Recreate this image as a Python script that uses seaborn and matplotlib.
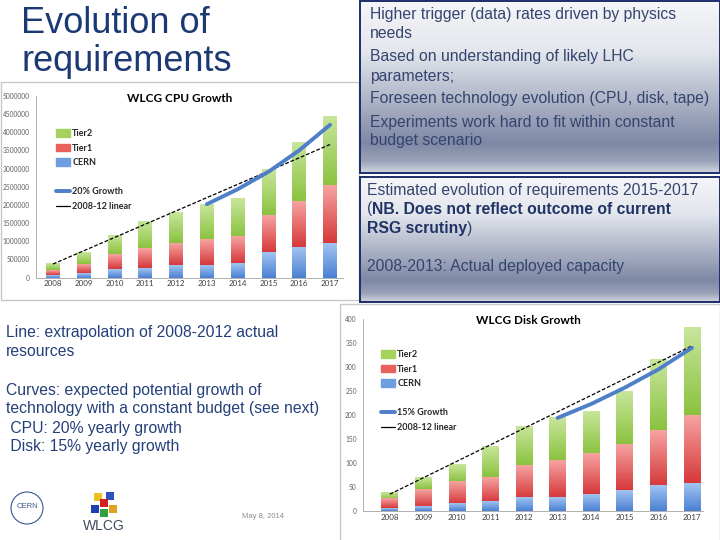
import matplotlib
matplotlib.use('Agg')
import matplotlib.pyplot as plt
from matplotlib.patches import Rectangle, Patch, Circle
from matplotlib.lines import Line2D
from matplotlib.colors import LinearSegmentedColormap
import numpy as np
import seaborn as sns

# values
years = [2008, 2009, 2010, 2011, 2012, 2013, 2014, 2015, 2016, 2017]

cpu_cern = [65000, 137000, 247000, 265000, 348000, 348000, 403000, 696000, 842000, 943000]
cpu_tier1 = [135000, 228000, 403000, 532000, 604000, 687000, 723000, 998000, 1255000, 1585000]
cpu_tier2 = [175000, 305000, 505000, 743000, 834000, 989000, 1064000, 1291000, 1612000, 1914000]
cpu_growth_years = [2013, 2014, 2015, 2016, 2017]
cpu_growth = [2020000, 2430000, 2910000, 3500000, 4200000]
cpu_linear_years = [2008, 2017]
cpu_linear = [375000, 3660000]
cpu_yticks = [0, 500000, 1000000, 1500000, 2000000, 2500000, 3000000, 3500000, 4000000, 4500000, 5000000]

disk_cern = [5.5, 9, 15, 19.5, 28, 29, 35, 43, 53, 58]
disk_tier1 = [19.5, 36, 46, 52, 68, 76, 84, 95, 116, 141]
disk_tier2 = [13, 23, 37, 63.5, 81, 91.5, 88, 112, 147, 182]
disk_growth_years = [2013, 2014, 2015, 2016, 2017]
disk_growth = [194, 223, 257, 295, 340]
disk_linear_years = [2008, 2017]
disk_linear = [35, 344]
disk_yticks = [0, 50, 100, 150, 200, 250, 300, 350, 400]

box1_lines = ["Higher trigger (data) rates driven by physics", "needs",
              "Based on understanding of likely LHC", "parameters;",
              "Foreseen technology evolution (CPU, disk, tape)",
              "Experiments work hard to fit within constant", "budget scenario"]
box1_y = [15, 34, 57, 76, 99, 122, 141]

left_lines = ["Line: extrapolation of 2008-2012 actual", "resources", "",
              "Curves: expected potential growth of",
              "technology with a constant budget (see next)",
              " CPU: 20% yearly growth", " Disk: 15% yearly growth"]
left_y = [332, 351, 370, 390, 409, 428, 447]

# (top, bottom) shades of each segment, solid colour for the legend
GREEN = ('#c8e69c', '#8ac23e', '#a5d25c')
RED = ('#f6a4a2', '#d6383a', '#e9605d')
BLUE = ('#a2c4f2', '#4a80d2', '#6d9fe0')
LINE_BLUE = '#4f7fc8'
NAVY = '#1c2d6b'
TXT = '#34446e'
FS = 11.3

sns.set_theme(style='white')
plt.rcParams['font.family'] = ['Liberation Sans', 'DejaVu Sans']

fig = plt.figure(figsize=(7.2, 5.4), dpi=100)
bg = fig.add_axes([0, 0, 1, 1], zorder=0)
bg.axis('off')

# gradient text boxes on the right
grad = LinearSegmentedColormap.from_list('box', [(0, '#f5f6f9'), (0.3, '#e3e6ec'), (0.6, '#aab1c4'),
                                                 (0.83, '#7e88a5'), (0.93, '#9aa2b8'), (1.0, '#d2d5de')])
ramp = np.linspace(0, 1, 256).reshape(-1, 1)
for y0, y1 in [(0, 173), (176, 302)]:
    bg.imshow(ramp, cmap=grad, aspect='auto', extent=(359, 720, y1, y0), zorder=1)
    bg.add_patch(Rectangle((359.5, y0 + 0.7), 360, y1 - y0 - 0.7, fill=False, ec=NAVY, lw=1.4, zorder=2))

# frames of the two chart pictures
bg.add_patch(Rectangle((0.5, 82), 358, 218, fc='white', ec='#c8c8c8', lw=1, zorder=1))
bg.add_patch(Rectangle((340, 303.5), 380, 237, fc='white', ec='#c8c8c8', lw=1, zorder=1))

# title
bg.text(21, 33, "Evolution of", fontsize=26, color='#1b3a73', va='baseline', zorder=3)
bg.text(21, 71, "requirements", fontsize=26, color='#1b3a73', va='baseline', zorder=3)

for s, y in zip(box1_lines, box1_y):
    bg.text(370, y, s, fontsize=FS, color=TXT, va='center', zorder=3)

bg.text(367, 190, "Estimated evolution of requirements 2015-2017", fontsize=FS, color=TXT, va='center', zorder=3)
bg.text(367, 267, "2008-2013: Actual deployed capacity", fontsize=FS, color=TXT, va='center', zorder=3)
t1 = bg.text(367, 209, "(", fontsize=FS, color=TXT, va='center', zorder=3)
t2 = bg.text(367, 229, "RSG scrutiny", fontsize=FS, color='#1f3366', fontweight='bold', va='center', zorder=3)

for s, y in zip(left_lines, left_y):
    bg.text(6, y, s, fontsize=FS, color='#24407a', va='center', zorder=3)

bg.text(242, 516, "May 8, 2014", fontsize=5.5, color='#8c8c8c', va='center', zorder=3)

# logos (rough)
bg.add_patch(Circle((27, 508), 16, fill=False, ec='#3a5590', lw=0.8, zorder=3))
bg.text(27, 506, "CERN", fontsize=5.5, color='#3a5590', ha='center', va='center', zorder=3)
for (cx, cy, c) in [(98, 497, '#e8c020'), (110, 496, '#3050c0'), (104, 503, '#d02020'),
                    (95, 509, '#2040b0'), (113, 509, '#e0a020'), (104, 513, '#30a040')]:
    bg.add_patch(Rectangle((cx - 4, cy - 4), 8, 8, fc=c, ec='none', zorder=3))
bg.text(104, 526, "WLCG", fontsize=10, color='#404a60', ha='center', va='center', zorder=3)

bg.set_xlim(0, 720)
bg.set_ylim(540, 0)

# place the mixed bold/normal pieces of box 2
fig.canvas.draw()
r = fig.canvas.get_renderer()
inv = bg.transData.inverted()
x_end = inv.transform((t1.get_window_extent(r).x1, 0))[0]
bg.text(x_end, 209, "NB. Does not reflect outcome of current", fontsize=FS, color='#1f3366',
        fontweight='bold', va='center', zorder=3)
x_end = inv.transform((t2.get_window_extent(r).x1, 0))[0]
bg.text(x_end, 229, ")", fontsize=FS, color=TXT, va='center', zorder=3)


def shaded_bars(ax, lows, highs, width, shades):
    # seaborn places the bars, then each visible segment gets a vertical shade
    n = len(ax.patches)
    sns.barplot(x=years, y=highs, native_scale=True, width=width, color=shades[2], saturation=1, ax=ax)
    cmap = LinearSegmentedColormap.from_list('seg', [shades[1], shades[0]])
    for p, lo in zip(ax.patches[n:], lows):
        x0, w, hi = p.get_x(), p.get_width(), p.get_height()
        ax.imshow(ramp, cmap=cmap, aspect='auto', origin='lower', extent=(x0, x0 + w, lo, hi), zorder=1.5)
        p.set_visible(False)


def growth_chart(rect, cern, tier1, tier2, gyears, gvals, lyears, lvals, yticks, xlim, width, title, title_xy,
                 leg_xy, gname):
    ax = fig.add_axes(rect, zorder=2)
    ax.patch.set_alpha(0)
    cern = np.array(cern, dtype=float)
    t1 = cern + np.array(tier1)
    t2 = t1 + np.array(tier2)
    shaded_bars(ax, t1, t2, width, GREEN)
    shaded_bars(ax, cern, t1, width, RED)
    shaded_bars(ax, np.zeros_like(cern), cern, width, BLUE)
    sns.lineplot(x=lyears, y=lvals, color='black', lw=0.9, linestyle=(0, (3, 1.5)), ax=ax, zorder=3)
    sns.lineplot(x=gyears, y=gvals, color=LINE_BLUE, lw=2.8, ax=ax, zorder=3)
    ax.set_xlim(*xlim)
    ax.set_ylim(yticks[0], yticks[-1])
    ax.set_xticks(years)
    ax.set_xticklabels([str(y) for y in years], fontsize=5.8, color='#404040', family='Lato')
    ax.set_yticks(yticks)
    ax.set_yticklabels([str(v) for v in yticks], fontsize=4.8, color='#606060', family='Lato')
    ax.tick_params(axis='both', length=2.5, width=0.6, color='#a0a0a0', pad=2, direction='out')
    ax.tick_params(axis='x', length=0)
    for s in ['top', 'right']:
        ax.spines[s].set_visible(False)
    for s in ['left', 'bottom']:
        ax.spines[s].set_color('#b0b0b0')
        ax.spines[s].set_linewidth(0.7)
    ax.set_xlabel('')
    ax.set_ylabel('')
    handles = [Patch(color=GREEN[2]), Patch(color=RED[2]), Patch(color=BLUE[2]), Patch(color='none'),
               Line2D([], [], color=LINE_BLUE, lw=2.8), Line2D([], [], color='black', lw=0.9)]
    labels = ['Tier2', 'Tier1', 'CERN', '', gname, '2008-12 linear']
    ax.legend(handles, labels, loc='upper left', bbox_to_anchor=(leg_xy[0] / 720, 1 - leg_xy[1] / 540),
              bbox_transform=fig.transFigure, frameon=False, borderpad=0, borderaxespad=0,
              handlelength=1.5, handleheight=0.9, handletextpad=0.3, labelspacing=0.62,
              prop={'family': 'Lato', 'weight': 'bold', 'size': 6.5})
    bg.text(title_xy[0], title_xy[1], title, fontsize=8.5, fontweight='bold', family='Lato',
            color='black', ha='center', va='center', zorder=3)
    return ax


growth_chart([36 / 720, 1 - 277.7 / 540, 307 / 720, 182 / 540], cpu_cern, cpu_tier1, cpu_tier2,
             cpu_growth_years, cpu_growth, cpu_linear_years, cpu_linear, cpu_yticks,
             (2008 - 0.55, 2017 + 0.42), 0.45, "WLCG CPU Growth", (180, 98), (56, 129),
             "20% Growth")

growth_chart([363 / 720, 1 - 511 / 540, 340 / 720, 192 / 540], disk_cern, disk_tier1, disk_tier2,
             disk_growth_years, disk_growth, disk_linear_years, disk_linear, disk_yticks,
             (2007.2, 2017.33), 0.5, "WLCG Disk Growth", (528, 320), (381, 350),
             "15% Growth")

fig.savefig('out.png', dpi=100)
